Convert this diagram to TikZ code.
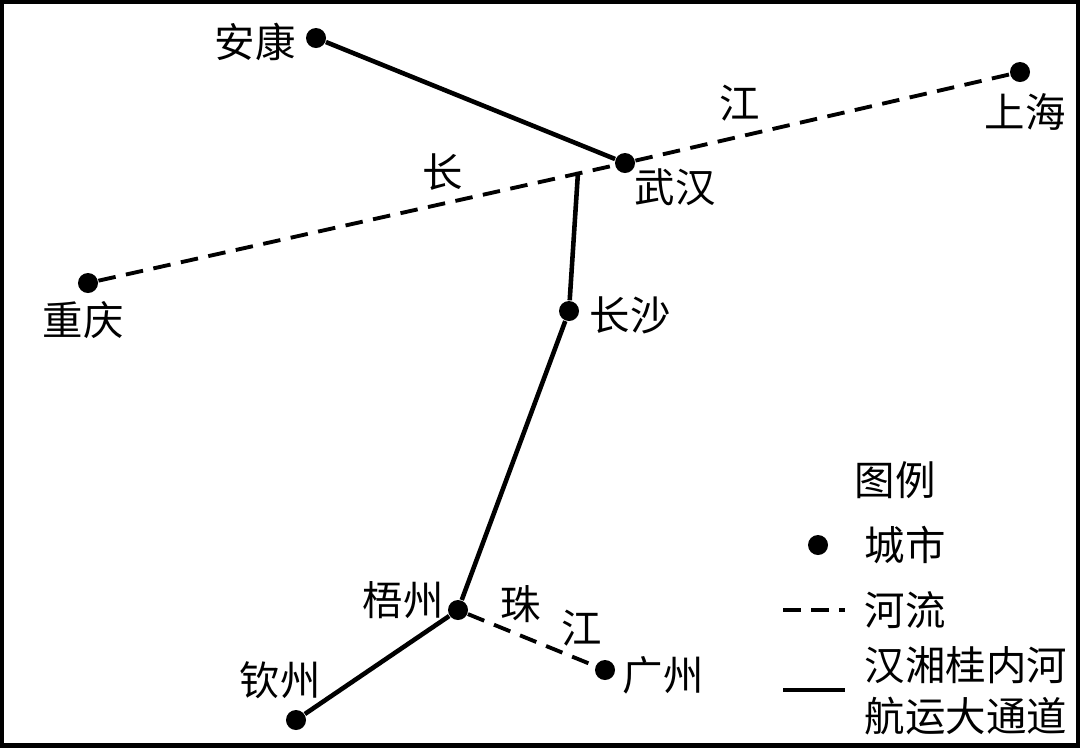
\documentclass[tikz,border=0pt]{standalone}
\usepackage{fontspec}
\setmainfont{Noto Sans CJK SC}
\usetikzlibrary{positioning}
\tikzset{
  city/.style={circle,fill=black,inner sep=0pt,minimum size=0.2cm},
  lbl/.style={font=\fontsize{11.5pt}{13pt}\selectfont,inner sep=1pt},
  river/.style={dashed,line width=1.1pt,dash pattern=on 5pt off 3pt},
  canal/.style={line width=1.3pt},
}
\begin{document}
\begin{tikzpicture}[x=0.01cm,y=-0.01cm]
\useasboundingbox (0,0) rectangle (1080,747);
\draw[line width=1.5pt] (1,1) rectangle (1079,746);
% cities
\node[city] (ankang) at (316,38) {};
\node[city] (wuhan) at (625,163) {};
\node[city] (shanghai) at (1020,72) {};
\node[city] (chongqing) at (88,283) {};
\node[city] (changsha) at (569,311) {};
\node[city] (wuzhou) at (458,610) {};
\node[city] (qinzhou) at (296,720) {};
\node[city] (guangzhou) at (605,670) {};
\coordinate (fork) at (578,172);
% names
\node[lbl] at (255,42) {安康};
\node[lbl] at (675,187) {武汉};
\node[lbl] at (1025,112) {上海};
\node[lbl] at (83,320) {重庆};
\node[lbl] at (630,315) {长沙};
\node[lbl] at (403,600) {梧州};
\node[lbl] at (280,680) {钦州};
\node[lbl] at (663,675) {广州};
\node[lbl] at (443,172) {长};
\node[lbl] at (740,103) {江};
\node[lbl] at (521,604) {珠};
\node[lbl] at (582,628) {江};
% rivers and channel
\draw[river] (chongqing) -- (wuhan) -- (shanghai);
\draw[river] (wuzhou) -- (guangzhou);
\draw[canal] (ankang) -- (wuhan);
\draw[canal] (fork) -- (changsha) -- (wuzhou) -- (qinzhou);
% legend
\node[lbl] (legtitle) at (895,480) {图例};
\node[city] (legdot) at (818,545) {};
\node[lbl] at (905,545) {城市};
\coordinate (rivA) at (783,610); \coordinate (rivB) at (845,610);
\draw[river] (rivA) -- (rivB);
\node[lbl] at (905,610) {河流};
\coordinate (canA) at (783,690); \coordinate (canB) at (845,690);
\draw[canal] (canA) -- (canB);
\node[lbl] at (966,665) {汉湘桂内河};
\node[lbl] at (966,716) {航运大通道};
\end{tikzpicture}
\end{document}
